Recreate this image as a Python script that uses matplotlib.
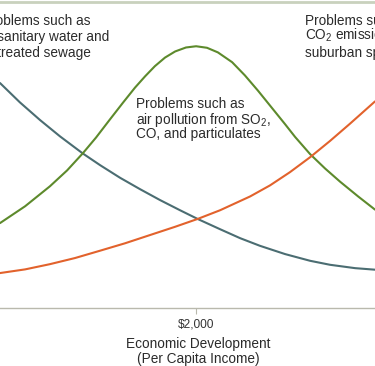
import matplotlib
matplotlib.use("Agg")
import matplotlib.pyplot as plt

plt.rcParams['font.family'] = ['Liberation Sans', 'DejaVu Sans']
plt.rcParams['mathtext.fontset'] = 'custom'
plt.rcParams['mathtext.rm'] = 'Liberation Sans'

# Economic development index (0-100 across the visible range), degradation (0-100)
water_x = [0, 5.3, 10.7, 16.0, 22.1, 26.7, 32.0, 37.3, 42.7, 48.0, 52.8, 58.7,
           64.0, 69.3, 76.0, 82.7, 88.0, 94.7, 100]
water_y = [73.4, 67.1, 61.3, 56.0, 50.4, 46.6, 42.5, 38.8, 35.2, 31.9, 29.0, 25.7,
           22.8, 20.3, 17.6, 15.4, 14.1, 13.0, 12.5]

air_x = [0, 6.7, 13.3, 17.9, 22.1, 25.6, 29.3, 32.8, 36.0, 38.7, 41.3, 44.0, 46.7,
         49.6, 52.3, 55.2, 58.1, 61.9, 65.3, 68.8, 72.5, 76.0, 78.7, 82.7, 86.7,
         90.7, 95.5, 100]
air_y = [27.7, 33.2, 39.7, 44.9, 50.5, 55.6, 61.5, 67.0, 71.9, 75.6, 78.9, 81.7, 83.7,
         85.0, 85.4, 84.9, 83.4, 80.2, 75.9, 70.9, 65.3, 60.0, 55.8, 50.2, 45.5,
         41.2, 36.4, 32.1]

co2_x = [0, 6.7, 13.3, 20.0, 26.7, 33.3, 40.0, 46.7, 52.8, 58.7, 66.7, 72.0, 77.3,
         82.7, 88.0, 93.3, 100]
co2_y = [11.4, 12.6, 14.3, 16.3, 18.7, 21.1, 23.8, 26.5, 29.1, 31.9, 36.4, 40.0, 44.3,
         49.2, 54.5, 60.1, 67.4]

tick_pos = [52.3]
tick_labels = ['\\$2,000']

water_lines = ['Problems such as', 'unsanitary water and', 'untreated sewage']
air_lines = ['Problems such as', 'air pollution from $\\mathregular{SO_2}$,', 'CO, and particulates']
co2_lines = ['Problems such as', '$\\mathregular{CO_2}$ emissions and', 'suburban sprawl']
xlabel_lines = ['Economic Development', '(Per Capita Income)']

c_blue = '#4b6d72'
c_green = '#5d8a2c'
c_orange = '#e2622c'
tc = '#2b2b2b'

W, H = 375, 366
fig = plt.figure(figsize=(W / 100, H / 100), dpi=100)
ax_bottom_px, ax_top_px = 308, 1.5
ax = fig.add_axes([0, (H - ax_bottom_px) / H, 1, (ax_bottom_px - ax_top_px) / H])
ax.set_xlim(0, 100)
ax.set_ylim(0, 100)

for xs, ys, c in [(water_x, water_y, c_blue), (air_x, air_y, c_green), (co2_x, co2_y, c_orange)]:
    ax.plot(xs, ys, color=c, lw=1.5, solid_capstyle='round', solid_joinstyle='round')

for s in ['left', 'right']:
    ax.spines[s].set_visible(False)
ax.spines['bottom'].set_color('#b9b9ad')
ax.spines['bottom'].set_linewidth(1.0)
ax.spines['top'].set_color('#c9d1bd')
ax.spines['top'].set_linewidth(2.0)

ax.set_yticks([])
ax.set_xticks(tick_pos)
ax.set_xticklabels(tick_labels, fontsize=8.6, color='#333333')
ax.tick_params(axis='x', length=4.5, width=0.8, color='#b9b9ad', pad=3)

fs = 9.8


def px_to_fig(px, py):
    return px / W, 1 - py / H


def block(lines, left_px, baselines_px):
    for line, b in zip(lines, baselines_px):
        fx, fy = px_to_fig(left_px, b)
        fig.text(fx, fy, line, ha='left', va='baseline', fontsize=fs, color=tc)


block(water_lines, -17.5, [25.0, 40.7, 57.3])
block(air_lines, 136.3, [108.3, 124.0, 138.3])
block(co2_lines, 305.0, [25.0, 40.0, 56.7])

for line, b in zip(xlabel_lines, [348.3, 363.0]):
    fx, fy = px_to_fig(198.5, b)
    fig.text(fx, fy, line, ha='center', va='baseline', fontsize=9.8, color=tc)

fig.savefig('out.png', dpi=100)
